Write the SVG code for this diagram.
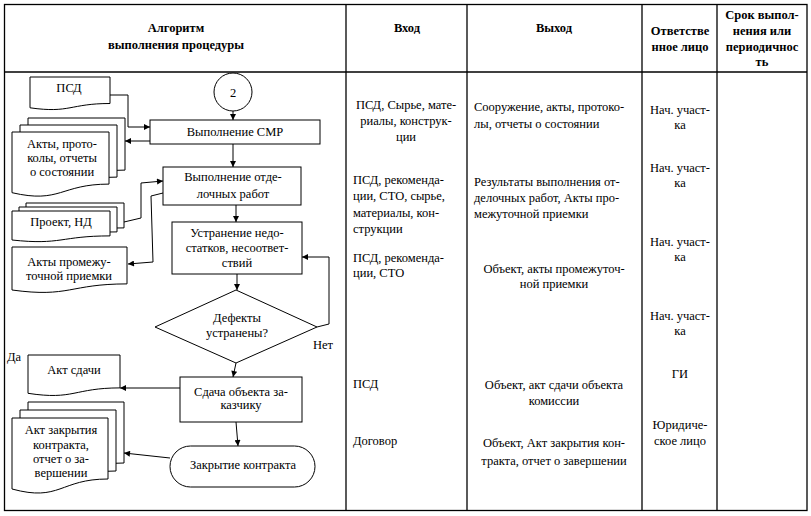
<svg xmlns="http://www.w3.org/2000/svg" width="811" height="516" viewBox="0 0 811 516" font-family="'Liberation Serif', 'DejaVu Serif', serif">
<style>
text{font-family:'Liberation Serif','DejaVu Serif',serif;font-size:12.5px;fill:#000}
.h{font-weight:bold;font-size:12.5px}
.c{text-anchor:middle}
.tbl{fill:none;stroke:#000;stroke-width:1.3}
.shape{fill:#fff;stroke:#000;stroke-width:1}
.ln{fill:none;stroke:#000;stroke-width:1}
.ar{marker-end:url(#arr)}
</style>
<defs>
<marker id="arr" viewBox="0 0 10 10" refX="10" refY="5" markerWidth="8" markerHeight="6" orient="auto" markerUnits="userSpaceOnUse">
<path d="M0,0 L10,5 L0,10 z" fill="#000"/>
</marker>
</defs>
<rect width="811" height="516" fill="#fff"/>
<g id="table">
<rect class="tbl" x="4.5" y="4.5" width="802.5" height="506"/>
<line class="tbl" x1="4.5" y1="72" x2="807" y2="72"/>
<line class="tbl" x1="346" y1="4.5" x2="346" y2="510.5"/>
<line class="tbl" x1="467" y1="4.5" x2="467" y2="510.5"/>
<line class="tbl" x1="642" y1="4.5" x2="642" y2="510.5"/>
<line class="tbl" x1="717" y1="4.5" x2="717" y2="510.5"/>
</g>
<g id="header">
<text class="h c" x="176" y="32">Алгоритм</text>
<text class="h c" x="176" y="49">выполнения процедуры</text>
<text class="h c" x="407" y="32">Вход</text>
<text class="h c" x="554" y="32">Выход</text>
<text class="h c" x="680" y="35">Ответстве</text>
<text class="h c" x="680" y="51">нное лицо</text>
<text class="h c" x="762" y="19">Срок выпол-</text>
<text class="h c" x="762" y="35">нения или</text>
<text class="h c" x="762" y="51">периодичнос</text>
<text class="h c" x="762" y="66">ть</text>
</g>
<g id="connectors">
<polyline class="ln ar" points="110,95 128,95 128,127 150,127"/>
<line class="ln ar" x1="233" y1="111" x2="233" y2="120"/>
<line class="ln ar" x1="150" y1="141" x2="125" y2="141"/>
<line class="ln ar" x1="233" y1="144" x2="233" y2="167"/>
<polyline class="ln ar" points="124,222 141,218 141,183 163,181"/>
<polyline class="ln ar" points="163,193 151,196 153,262 128,264"/>
<line class="ln ar" x1="236" y1="205" x2="236" y2="222"/>
<line class="ln ar" x1="237" y1="274" x2="237" y2="290"/>
<polyline class="ln ar" points="317,327 329,324 329,257 302,257"/>
<line class="ln ar" x1="236" y1="363" x2="233" y2="377"/>
<line class="ln ar" x1="180" y1="388" x2="120" y2="388"/>
<line class="ln ar" x1="236" y1="422" x2="238" y2="446"/>
<line class="ln ar" x1="170" y1="458" x2="124" y2="453"/>
<text x="313" y="349">Нет</text>
<text x="7" y="361">Да</text>
</g>
<g id="doc-psd">
<path class="shape" d="M30,77 H110 V103.5 C70,103.5 70,113.5 30,107.8 Z"/>
<text class="c" x="69" y="92">ПСД</text>
</g>
<g id="circle-2">
<circle class="shape" cx="233" cy="92" r="19"/>
<text class="c" x="233" y="97">2</text>
</g>
<g id="box-smr">
<rect class="shape" x="150" y="120" width="170" height="24"/>
<text class="c" x="235" y="136">Выполнение СМР</text>
</g>
<g id="doc-akty">
<path class="shape" d="M28,118 H125 V170.1 C76.5,170.1 76.5,189.9 28,178.7 Z"/>
<path class="shape" d="M20,125 H117 V177.1 C68.5,177.1 68.5,196.9 20,185.7 Z"/>
<path class="shape" d="M12,132 H109 V184.1 C60.5,184.1 60.5,203.9 12,192.7 Z"/>
<text class="c" x="62" y="148">Акты, прото-</text>
<text class="c" x="62" y="162">колы, отчеты</text>
<text class="c" x="62" y="176">о состоянии</text>
</g>
<g id="box-otdelka">
<rect class="shape" x="163" y="167" width="138" height="38"/>
<text class="c" x="233" y="181">Выполнение отде-</text>
<text class="c" x="233" y="198">лочных работ</text>
</g>
<g id="doc-proekt">
<path class="shape" d="M26,203 H124 V227.9 C75,227.9 75,237.3 26,232 Z"/>
<path class="shape" d="M19,207 H117 V231.9 C68,231.9 68,241.3 19,236 Z"/>
<path class="shape" d="M12,211 H110 V235.9 C61,235.9 61,245.3 12,240 Z"/>
<text class="c" x="61" y="226">Проект, НД</text>
</g>
<g id="box-ustranenie">
<rect class="shape" x="172" y="222" width="130" height="52"/>
<text class="c" x="237" y="237">Устранение недо-</text>
<text class="c" x="237" y="252">статков, несоответ-</text>
<text class="c" x="237" y="267">ствий</text>
</g>
<g id="doc-akty-prom">
<path class="shape" d="M12,247 H127 V283.9 C69.5,283.9 69.5,297.9 12,290 Z"/>
<text class="c" x="69" y="266">Акты промежу-</text>
<text class="c" x="69" y="280">точной приемки</text>
</g>
<g id="decision">
<polygon class="shape" points="236,290 317,327 236,363 155,327"/>
<text class="c" x="237" y="322">Дефекты</text>
<text class="c" x="237" y="337">устранены?</text>
</g>
<g id="doc-akt-sdachi">
<path class="shape" d="M28,355 H120 V387.9 C74,387.9 74,400.4 28,393.3 Z"/>
<text class="c" x="74" y="374">Акт сдачи</text>
</g>
<g id="box-sdacha">
<rect class="shape" x="180" y="377" width="122" height="45"/>
<text class="c" x="241" y="396">Сдача объекта за-</text>
<text class="c" x="241" y="409">казчику</text>
</g>
<g id="doc-akt-zakr">
<path class="shape" d="M28,402 H124 V463 C76,463 76,486.1 28,473 Z"/>
<path class="shape" d="M20,410 H116 V471 C68,471 68,494.1 20,481 Z"/>
<path class="shape" d="M12,418 H108 V479 C60,479 60,502.1 12,489 Z"/>
<text class="c" x="61" y="434">Акт закрытия</text>
<text class="c" x="61" y="449">контракта,</text>
<text class="c" x="61" y="463">отчет о за-</text>
<text class="c" x="61" y="477">вершении</text>
</g>
<g id="term-zakr">
<rect class="shape" x="170" y="446" width="145" height="41" rx="20.5" ry="20.5"/>
<text class="c" x="243" y="469">Закрытие контракта</text>
</g>
<g id="col-vhod">
<text class="c" x="406" y="109">ПСД, Сырье, мате-</text>
<text class="c" x="406" y="125">риалы, конструк-</text>
<text class="c" x="406" y="141">ции</text>
<text x="353" y="184">ПСД, рекоменда-</text>
<text x="353" y="200">ции, СТО, сырье,</text>
<text x="353" y="217">материалы, кон-</text>
<text x="353" y="233">струкции</text>
<text x="353" y="262">ПСД, рекоменда-</text>
<text x="353" y="277">ции, СТО</text>
<text x="353" y="388">ПСД</text>
<text x="353" y="445">Договор</text>
</g>
<g id="col-vyhod">
<text x="474" y="111">Сооружение, акты, протоко-</text>
<text x="474" y="128">лы, отчеты о состоянии</text>
<text x="474" y="186">Результаты выполнения от-</text>
<text x="474" y="202">делочных работ, Акты про-</text>
<text x="474" y="218">межуточной приемки</text>
<text class="c" x="554" y="273">Объект, акты промежуточ-</text>
<text class="c" x="554" y="288">ной приемки</text>
<text class="c" x="554" y="389">Объект, акт сдачи объекта</text>
<text class="c" x="554" y="405">комиссии</text>
<text class="c" x="554" y="447">Объект, Акт закрытия кон-</text>
<text class="c" x="554" y="465">тракта, отчет о завершении</text>
</g>
<g id="col-otv">
<text class="c" x="680" y="114">Нач. участ-</text>
<text class="c" x="680" y="129">ка</text>
<text class="c" x="680" y="172">Нач. участ-</text>
<text class="c" x="680" y="187">ка</text>
<text class="c" x="680" y="246">Нач. участ-</text>
<text class="c" x="680" y="261">ка</text>
<text class="c" x="680" y="320">Нач. участ-</text>
<text class="c" x="680" y="335">ка</text>
<text class="c" x="680" y="378">ГИ</text>
<text class="c" x="680" y="429">Юридиче-</text>
<text class="c" x="680" y="445">ское лицо</text>
</g>
</svg>
